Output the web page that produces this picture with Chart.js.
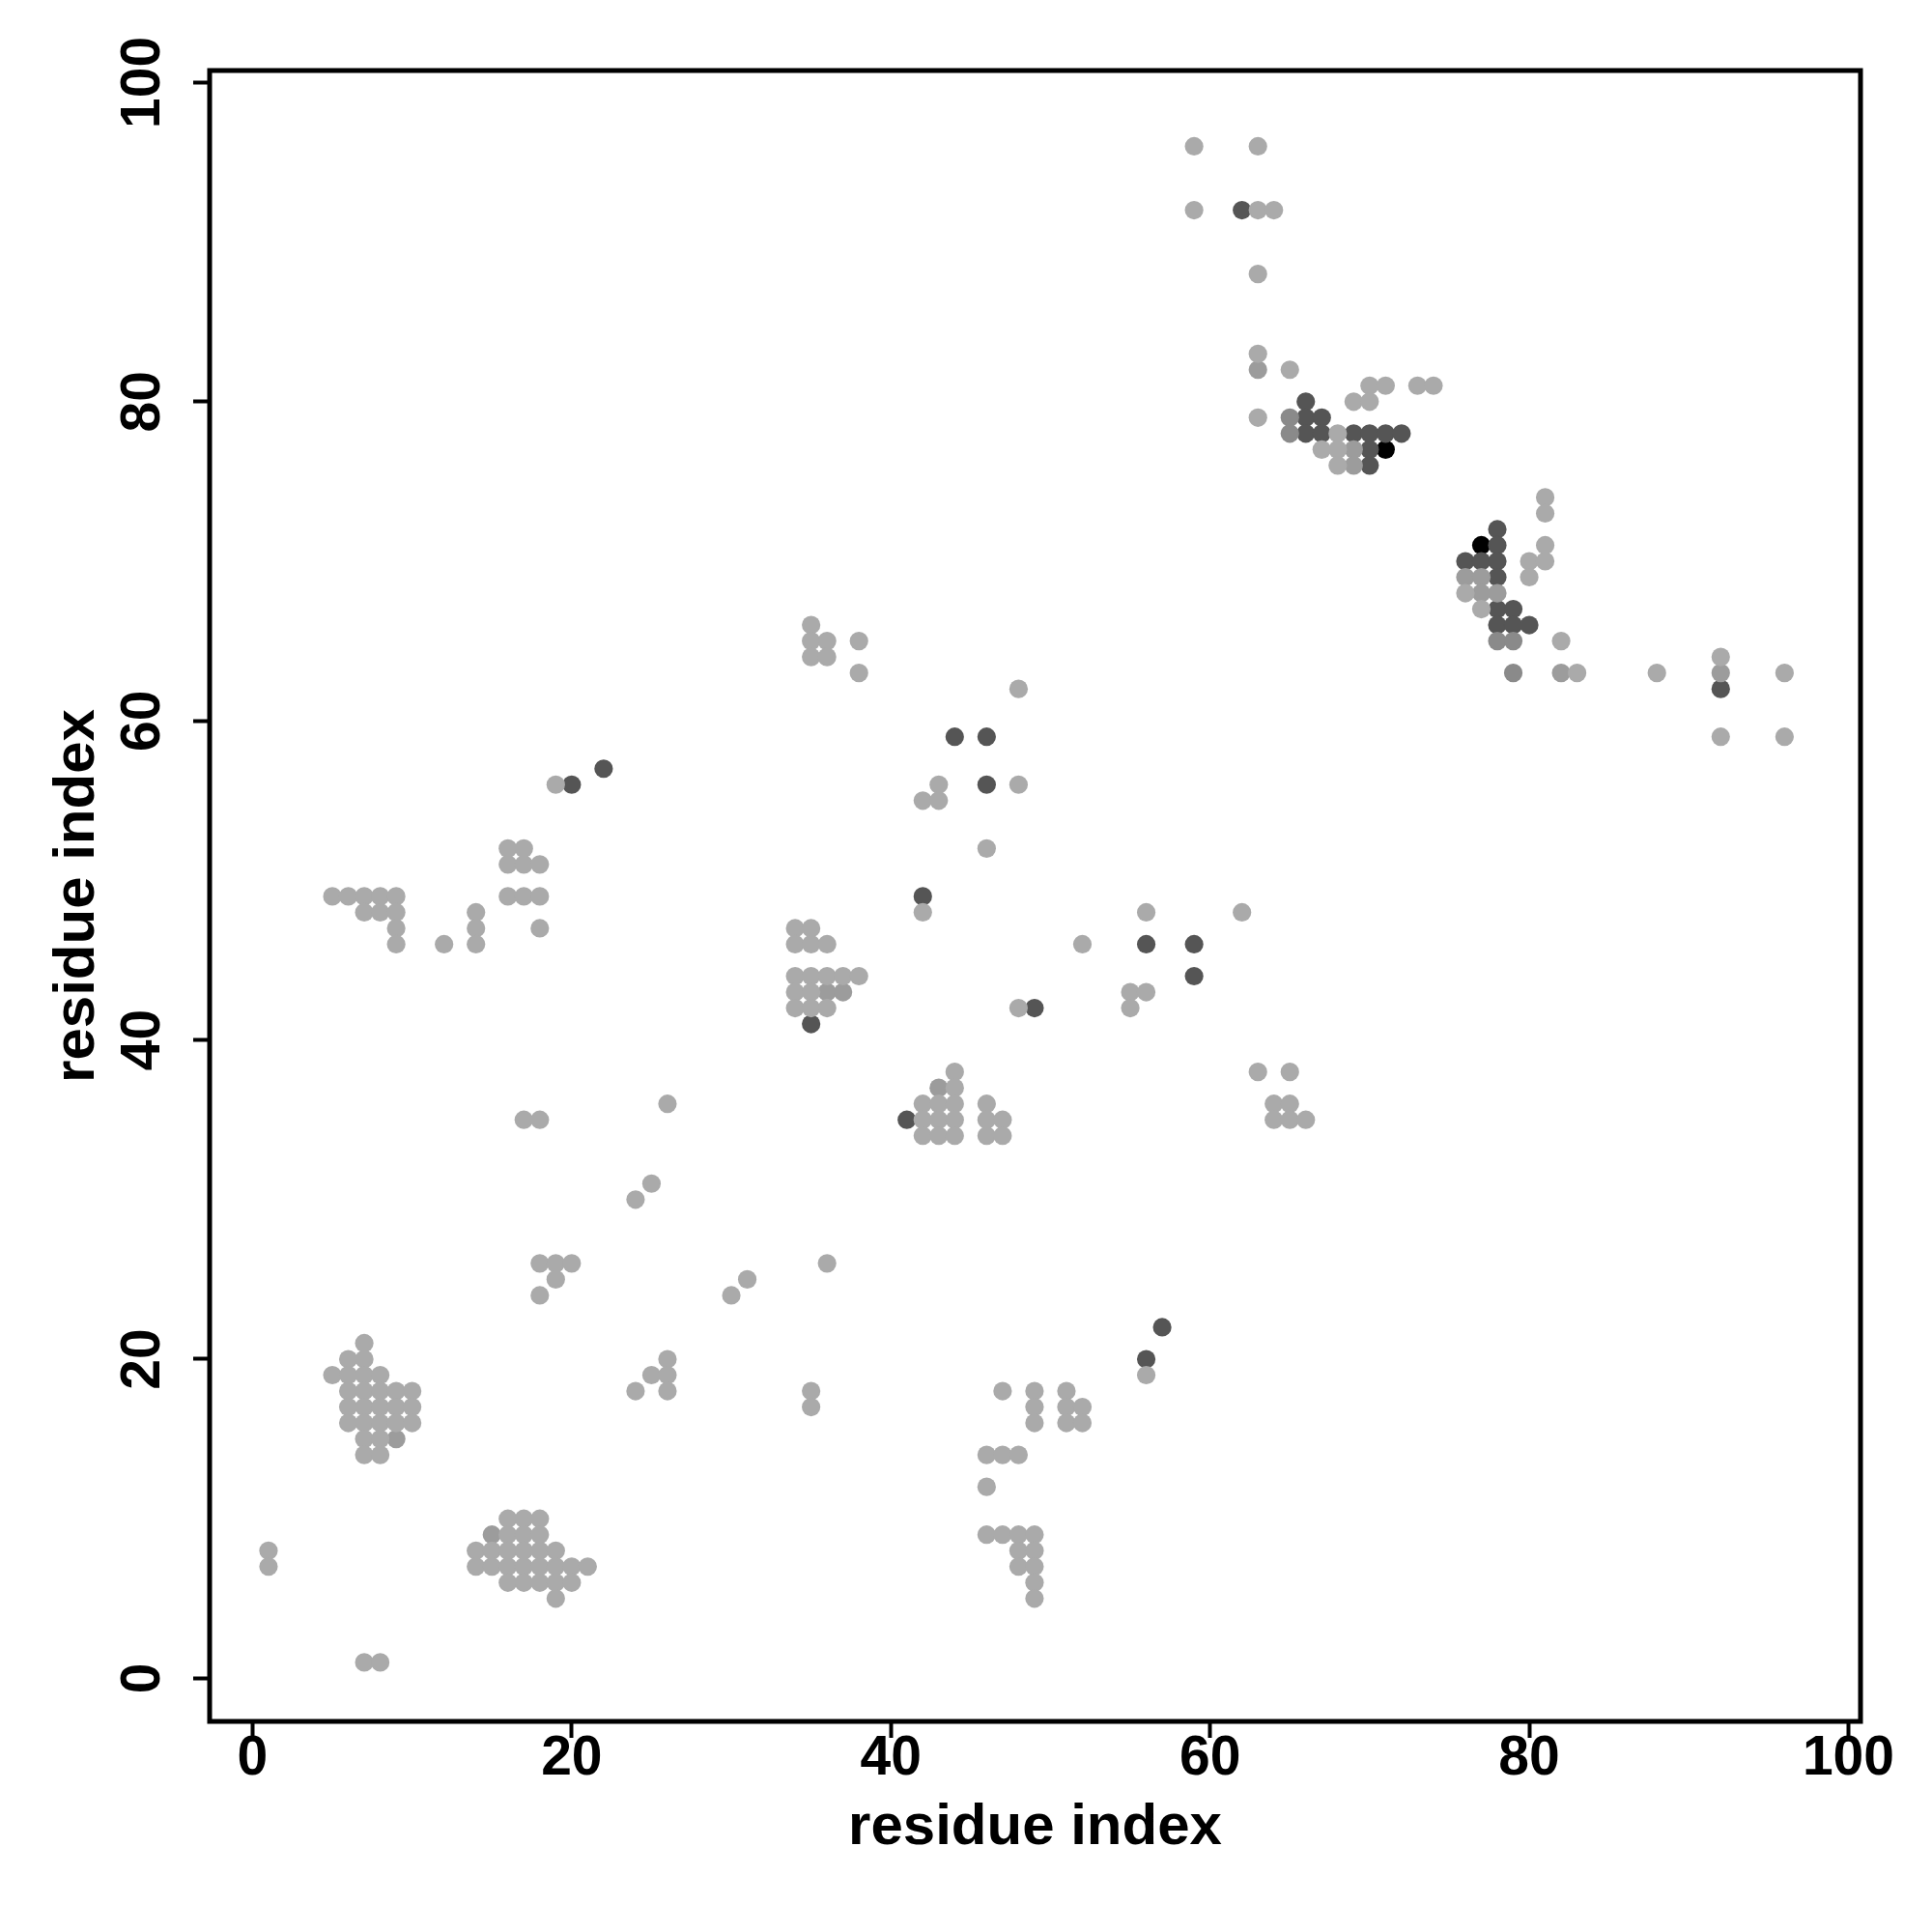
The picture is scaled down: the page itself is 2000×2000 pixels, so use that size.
<!DOCTYPE html>
<html lang="en">
<head>
    <meta charset="UTF-8">
    <title>residue contact map</title>
    <script src="https://cdn.jsdelivr.net/npm/chart.js@4.4.1/dist/chart.umd.min.js"></script>
    <style>
        body { margin: 0; background: #ffffff; }
        #wrap { width: 2000px; height: 2000px; }
    </style>
</head>
<body>
    <div id="wrap"><canvas id="map" width="2000" height="2000"></canvas></div>

    <script>
        // axis ranges and ticks
        const xMin = -2.69, xMax = 100.76;
        const yMin = -2.7, yMax = 100.75;
        const xTicks = [0, 20, 40, 60, 80, 100];
        const yTicks = [0, 20, 40, 60, 80, 100];

        // contacts, grouped by grey level (x = residue i, y = residue j)
        const lightPoints = [
            [7,21],[6,20],[7,20],[5,19],[6,19],[7,19],[8,19],
            [6,18],[7,18],[8,18],[9,18],[10,18],[6,17],[7,17],[8,17],[9,17],[10,17],
            [6,16],[7,16],[8,16],[9,16],[10,16],[7,15],[8,15],[7,14],[8,14],
            [16,10],[17,10],[18,10],[16,9],[17,9],[18,9],
            [14,8],[15,8],[16,8],[17,8],[18,8],[19,8],
            [14,7],[15,7],[16,7],[17,7],[18,7],[19,7],[20,7],[21,7],
            [16,6],[17,6],[18,6],[19,6],[20,6],[19,5],
            [1,8],[1,7],[7,1],[8,1],
            [47,18],[49,18],[49,17],[49,16],[51,18],[51,17],[51,16],[52,17],[52,16],
            [46,14],[47,14],[48,14],[46,12],
            [46,9],[47,9],[48,9],[49,9],[48,8],[49,8],[48,7],[49,7],[49,6],[49,5],
            [42,48],[34,47],[35,47],[34,46],[35,46],[36,46],
            [34,44],[35,44],[36,44],[37,44],[38,44],[34,43],[35,43],
            [34,42],[35,42],[36,42],[48,42],
            [44,38],[44,37],[42,36],[43,36],[44,36],[42,35],[43,35],[44,35],
            [42,34],[43,34],[44,34],[46,36],[46,35],[46,34],[47,35],[47,34],
            [59,96],[63,96],[59,92],[63,92],[64,92],[63,88],[63,83],[65,82],
            [70,81],[71,81],[73,81],[74,81],[69,80],[70,80],[63,79],
            [68,78],[67,77],[68,77],[68,76],
            [81,74],[81,73],[81,71],[80,70],[81,70],[80,69],
            [76,68],[77,67],[83,63],[88,63],[92,64],[96,63],[92,59],[96,59],[82,65],
            [19,56],[16,52],[17,52],[16,51],[17,51],[18,51],
            [5,49],[6,49],[7,49],[8,49],[9,49],[16,49],[17,49],[18,49],
            [7,48],[8,48],[9,48],[14,48],[9,47],[14,47],[18,47],[9,46],[12,46],[14,46],
            [48,62],[43,56],[48,56],[42,55],[43,55],[46,52],
            [56,48],[62,48],[52,46],[55,43],[56,43],[55,42],
            [63,38],[65,38],[64,36],[65,36],[64,35],[65,35],[66,35],
            [17,35],[18,35],[26,36],[25,31],[24,30],
            [18,26],[19,26],[20,26],[19,25],[18,24],[36,26],[31,25],[30,24],
            [26,20],[25,19],[26,19],[24,18],[26,18],[35,18],[35,17],
            [35,66],[35,65],[36,65],[35,64],[36,64],[38,65],[38,63],[56,19]
        ];
        const midLightPoints = [
            [9,15],[15,9],[43,37],[36,43],[37,43],[63,82],[69,77],[69,76],
            [76,69],[77,69],[77,68],[78,68],[82,63],[92,63]
        ];
        const midPoints = [
            [65,79],[65,78],[78,65],[79,65],[79,63]
        ];
        const darkPoints = [
            [62,92],[66,80],[66,79],[67,79],[66,78],[67,78],[69,78],[70,78],[71,78],[72,78],
            [70,77],[70,76],
            [78,72],[78,71],[76,70],[77,70],[78,70],[78,69],[78,67],[79,67],
            [78,66],[79,66],[80,66],[92,62],
            [35,41],[49,42],[41,35],[44,59],[46,59],[46,56],[42,49],
            [56,46],[59,46],[59,44],[22,57],[20,56],[57,22],[56,20]
        ];
        const blackPoints = [[71,77],[77,71]];

        const fontFamily = '"Liberation Sans", Arial, Helvetica, sans-serif';

        function toXY(list) {
            return list.map(p => ({x: p[0], y: p[1]}));
        }

        function pointSet(list, color) {
            return {
                data: toXY(list),
                backgroundColor: color,
                borderWidth: 0,
                pointRadius: 9.6,
                pointHoverRadius: 9.6
            };
        }

        // frame round the plot area
        const boxPlugin = {
            id: 'box',
            afterDraw(chart) {
                const a = chart.chartArea;
                const ctx = chart.ctx;
                ctx.save();
                ctx.strokeStyle = '#000';
                ctx.lineWidth = 5;
                ctx.strokeRect(a.left, a.top, a.right - a.left, a.bottom - a.top);
                ctx.restore();
            }
        };

        function axisOptions(min, max, ticks, isX) {
            return {
                type: 'linear',
                min: min,
                max: max,
                afterBuildTicks: axis => { axis.ticks = ticks.map(v => ({value: v})); },
                afterFit: s => { if (isX) s.height = 218; else s.width = 217; },
                grid: { drawOnChartArea: false, drawTicks: true, tickLength: 17, tickWidth: 4, tickColor: '#000' },
                border: { display: false },
                ticks: isX
                    ? { color: '#000', padding: -6, maxRotation: 0, font: { family: fontFamily, size: 57, weight: 'bold', lineHeight: 1 } }
                    : { color: '#000', padding: 3, minRotation: 90, maxRotation: 90, crossAlign: 'center', font: { family: fontFamily, size: 57, weight: 'bold', lineHeight: 1 } },
                title: {
                    display: true,
                    text: 'residue index',
                    color: '#000',
                    font: { family: fontFamily, size: 60, weight: 'bold', lineHeight: 1 },
                    padding: isX ? { top: 0, bottom: 78 } : { top: 50, bottom: 0 }
                }
            };
        }

        new Chart(document.getElementById('map').getContext('2d'), {
            type: 'scatter',
            data: {
                datasets: [
                    pointSet(lightPoints, '#aaaaaa'),
                    pointSet(midLightPoints, '#9c9c9c'),
                    pointSet(midPoints, '#8a8a8a'),
                    pointSet(darkPoints, '#555555'),
                    pointSet(blackPoints, '#000000')
                ]
            },
            options: {
                responsive: false,
                animation: false,
                layout: { padding: { top: 73, right: 74, bottom: 0, left: 0 } },
                plugins: { legend: { display: false }, tooltip: { enabled: false } },
                scales: {
                    x: axisOptions(xMin, xMax, xTicks, true),
                    y: axisOptions(yMin, yMax, yTicks, false)
                }
            },
            plugins: [boxPlugin]
        });
    </script>
</body>
</html>
